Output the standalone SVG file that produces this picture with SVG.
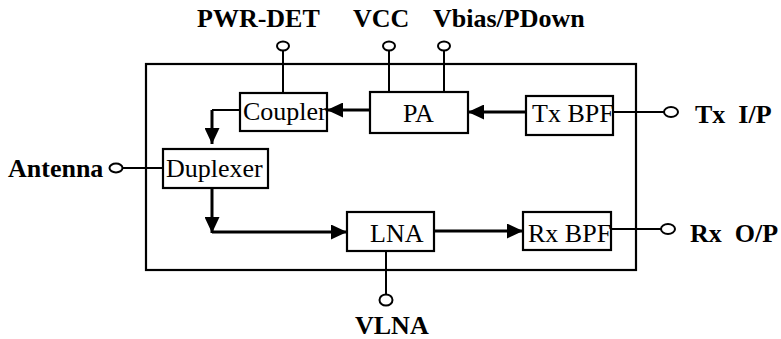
<svg xmlns="http://www.w3.org/2000/svg" width="781" height="339" viewBox="0 0 781 339">
<style>
.box{fill:none;stroke:#000;stroke-width:2.2}
.frame{fill:none;stroke:#000;stroke-width:2.2}
.bt{font-family:"Liberation Serif",serif;font-size:26px;fill:#000}
.lb{font-family:"Liberation Serif",serif;font-size:26px;font-weight:bold;fill:#000}
.arr{fill:none;stroke:#000;stroke-width:3}
.pin{fill:none;stroke:#000;stroke-width:2}
.pinc{fill:#fff;stroke:#000;stroke-width:2}
</style>
<defs>
<marker id="ah" markerUnits="userSpaceOnUse" markerWidth="16" markerHeight="15" refX="16" refY="7.5" orient="auto">
<path d="M0,0 L16,7.5 L0,15 z" fill="#000"/>
</marker>
</defs>
<rect class="frame" x="146" y="64" width="490" height="206"/>
<g id="connectors">
<path class="pin" d="M283,93 V50"/>
<path class="pin" d="M389,92 V50"/>
<path class="pin" d="M444,92 V50"/>
<path class="pin" d="M123,168 H163"/>
<path class="pin" d="M613,112 H664"/>
<path class="pin" d="M611,229 H661"/>
<path class="pin" d="M386,251 V294"/>
<path class="pin" d="M240,110 H212"/>
<path class="arr" d="M212,110 V144" marker-end="url(#ah)"/>
<path class="arr" d="M212,188 V233" marker-end="url(#ah)"/>
<path class="arr" d="M212,232 H347" marker-end="url(#ah)"/>
<path class="arr" d="M370,110 H327" marker-end="url(#ah)"/>
<path class="arr" d="M526,112 H468" marker-end="url(#ah)"/>
<path class="arr" d="M434,231 H523" marker-end="url(#ah)"/>
</g>
<g id="coupler"><text class="bt" x="243" y="120">Coupler</text><rect class="box" x="240" y="93" width="87" height="38"/></g>
<g id="pa"><rect class="box" x="370" y="92" width="98" height="41"/><text class="bt" x="403" y="122">PA</text></g>
<g id="txbpf"><text class="bt" x="532" y="122">Tx BPF</text><rect class="box" x="526" y="96" width="87" height="39"/></g>
<g id="duplexer"><rect class="box" x="163" y="149" width="105" height="39"/><text class="bt" x="166" y="177">Duplexer</text></g>
<g id="lna"><rect class="box" x="347" y="212" width="87" height="39"/><text class="bt" x="370" y="242">LNA</text></g>
<g id="rxbpf"><text class="bt" x="528" y="242">Rx BPF</text><rect class="box" x="523" y="212" width="88" height="38"/></g>
<g id="pwrdet"><ellipse class="pinc" cx="283" cy="46" rx="6" ry="4.5"/><text class="lb" x="197" y="27">PWR-DET</text></g>
<g id="vcc"><ellipse class="pinc" cx="389" cy="46" rx="6" ry="4.5"/><text class="lb" x="353" y="27">VCC</text></g>
<g id="vbias"><ellipse class="pinc" cx="444" cy="46" rx="6" ry="4.5"/><text class="lb" x="433" y="27">Vbias/PDown</text></g>
<g id="antenna"><ellipse class="pinc" cx="116" cy="168" rx="6.5" ry="4.5"/><text class="lb" x="8" y="177">Antenna</text></g>
<g id="txip"><ellipse class="pinc" cx="671" cy="112" rx="7" ry="5"/><text class="lb" x="695" y="123" xml:space="preserve">Tx  I/P</text></g>
<g id="rxop"><ellipse class="pinc" cx="668" cy="229" rx="7" ry="5"/><text class="lb" x="690" y="242" xml:space="preserve">Rx  O/P</text></g>
<g id="vlna"><ellipse class="pinc" cx="386" cy="300" rx="6.5" ry="5.5"/><text class="lb" x="355" y="334">VLNA</text></g>
</svg>
